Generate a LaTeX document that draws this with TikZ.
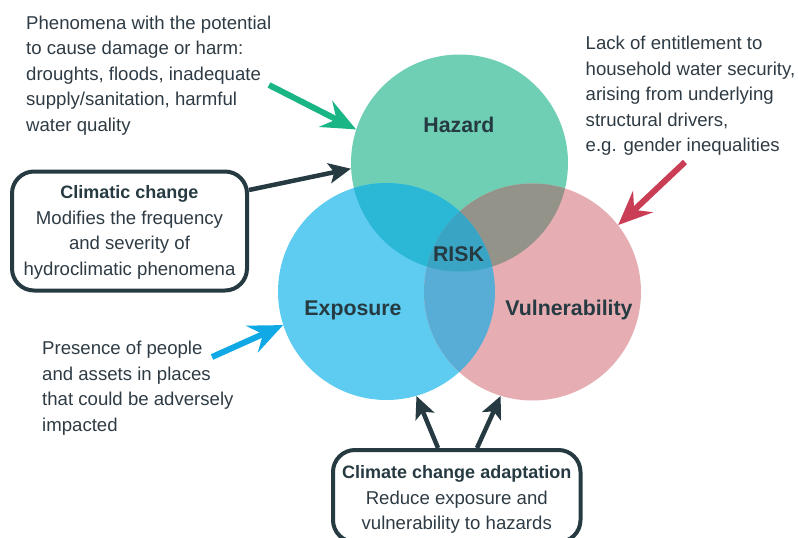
\documentclass[tikz,border=0pt]{standalone}
\usepackage{fontspec}
\setmainfont{Liberation Sans}
\usetikzlibrary{arrows.meta,calc}
\definecolor{hazc}{HTML}{6ECFB4}
\definecolor{expc}{HTML}{5ECBF0}
\definecolor{vulc}{HTML}{E6ADB3}
\definecolor{hec}{HTML}{2AB8D6}
\definecolor{hvc}{HTML}{93938A}
\definecolor{evc}{HTML}{58ADD6}
\definecolor{hevc}{HTML}{3AA4C5}
\definecolor{ink}{HTML}{263A42}
\definecolor{txt}{HTML}{2E3B44}
\definecolor{grn}{HTML}{1AB585}
\definecolor{redc}{HTML}{C93E55}
\definecolor{bluc}{HTML}{10A8E5}
\begin{document}
\begin{tikzpicture}[x=1pt,y=-1pt,
 body/.style={font=\fontsize{18.6}{25.5}\selectfont, text=txt, inner sep=0pt, align=left},
 circlab/.style={font=\fontsize{21.3}{24}\selectfont\bfseries, text=ink, inner sep=0pt, anchor=base},
 setnode/.style={circle, minimum size=217pt, inner sep=0pt},
 box/.style={draw=ink, line width=4pt, rounded corners=22pt, align=center, inner sep=0pt, text=txt, font=\fontsize{18.6}{25.5}\selectfont},
 bigarrow/.style={line width=6pt, -{Stealth[length=34pt,width=29pt,inset=12pt]}},
 darkarrow/.style={draw=ink, line width=4.5pt, -{Stealth[length=22pt,width=20pt,inset=5pt]}},
]
\useasboundingbox (0,0) rectangle (798,538);

% circle centres
\coordinate (hc) at (459.5,163);
\coordinate (ec) at (386.5,291.5);
\coordinate (vc) at (532.5,292);

\fill[hazc] (hc) circle (108.5);
\fill[expc] (ec) circle (108.5);
\fill[vulc] (vc) circle (108.5);
\begin{scope}\clip (hc) circle (108.5); \fill[hec] (ec) circle (108.5); \end{scope}
\begin{scope}\clip (hc) circle (108.5); \fill[hvc] (vc) circle (108.5); \end{scope}
\begin{scope}\clip (ec) circle (108.5); \fill[evc] (vc) circle (108.5); \end{scope}
\begin{scope}\clip (hc) circle (108.5); \clip (ec) circle (108.5); \fill[hevc] (vc) circle (108.5); \end{scope}

\node[setnode] (H) at (hc) {};
\node[setnode] (E) at (ec) {};
\node[setnode] (V) at (vc) {};

% circle labels
\node[circlab] (hl) at (459,132) {Hazard};
\node[circlab] (rl) at (458.5,261) {RISK};
\node[circlab] (el) at (353,315) {Exposure};
\node[circlab] (vl) at (569,315.5) {Vulnerability};

% text blocks
\node[body, anchor=north west] (hazt) at (26,15.5) {Phenomena with the potential\\to cause damage or harm:\\droughts, floods, inadequate\\supply/sanitation, harmful\\water quality};
\node[body, anchor=north west] (vult) at (585.5,36) {Lack of entitlement to\\household water security,\\arising from underlying\\structural drivers,\\e.g. gender inequalities};
\node[body, anchor=north west] (expt) at (42,341) {Presence of people\\and assets in places\\that could be adversely\\impacted};

% boxes
\node[box, minimum width=235pt, minimum height=119pt] (climbox) at (129.5,231)
 {\rule{0pt}{16pt}{\fontsize{18}{25.5}\selectfont\bfseries\color{ink}Climatic change}\\Modifies the frequency\\and severity of\\hydroclimatic phenomena};
\node[box, minimum width=247.5pt, minimum height=92pt] (adapt) at (456.75,496)
 {\rule{0pt}{20pt}{\fontsize{18}{25.5}\selectfont\bfseries\color{ink}Climate change adaptation}\\Reduce exposure and\\vulnerability to hazards};

% arrows
\coordinate (gs) at (269,85);
\coordinate (rs) at (685,162);
\coordinate (bs) at (212,357);
\coordinate (cy) at (0,190);
\coordinate (ax1) at (438,0);
\coordinate (ax2) at (477,0);
\draw[bigarrow, draw=grn] (gs) -- (H.162.5);
\draw[bigarrow, draw=redc] (rs) -- (V.38);
\draw[bigarrow, draw=bluc] (bs) -- (E.198);
\draw[darkarrow] (climbox.east |- cy) -- (H.183);
\draw[darkarrow] (adapt.north -| ax1) -- (E.286.5);
\draw[darkarrow] (adapt.north -| ax2) -- (V.253.8);
\end{tikzpicture}
\end{document}
